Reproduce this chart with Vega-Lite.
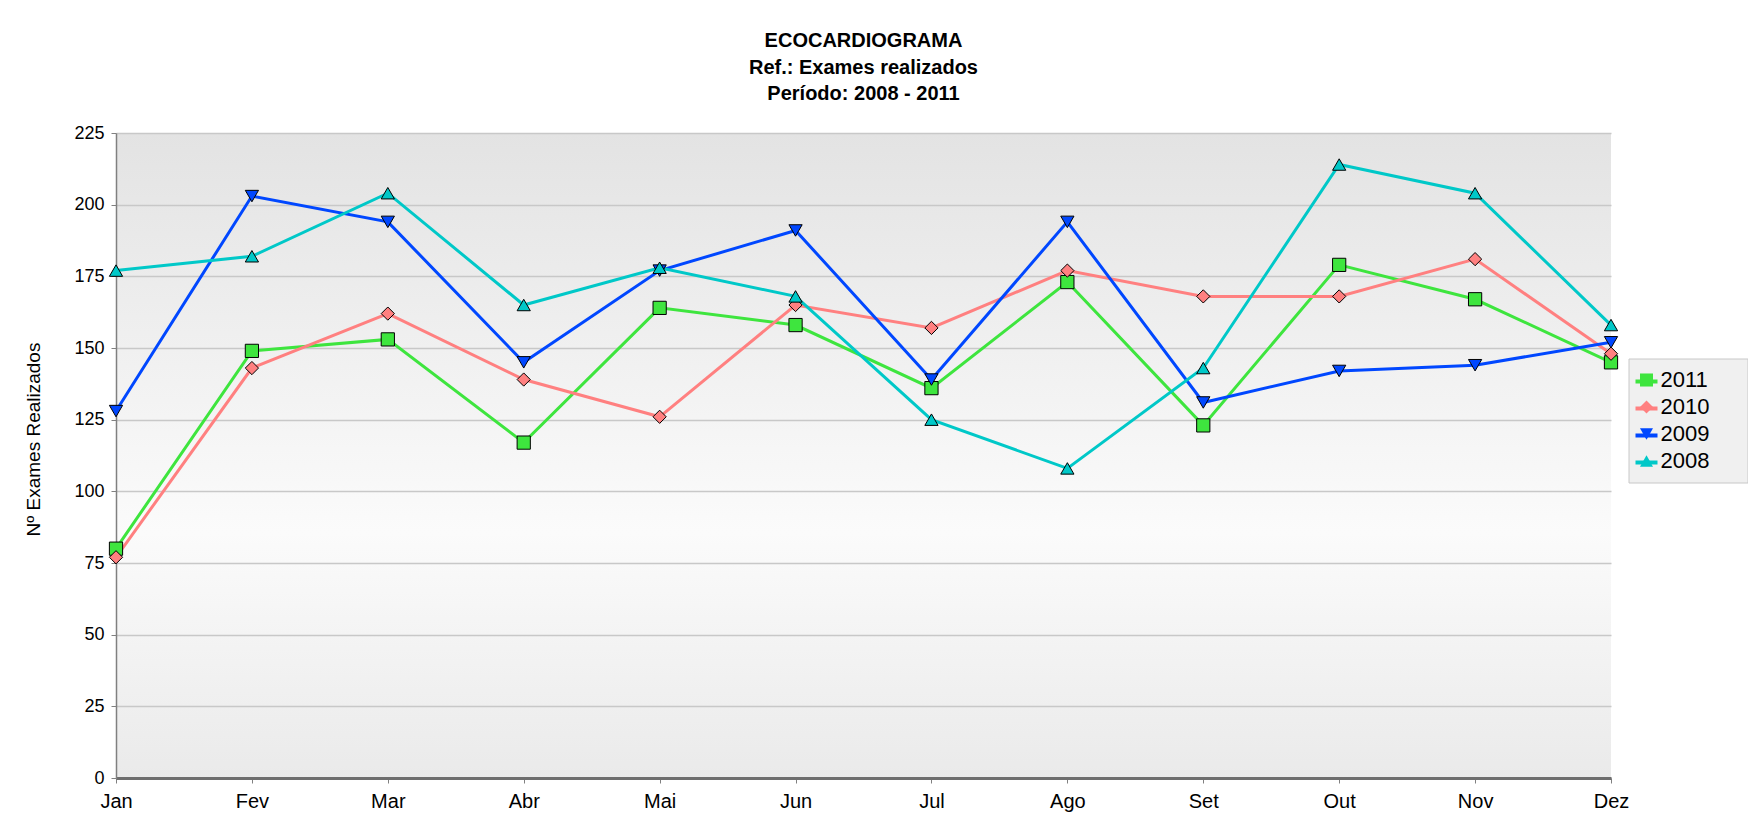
{
  "$schema": "https://vega.github.io/schema/vega-lite/v6.json",
  "width": 1495,
  "height": 645,
  "padding": {"left": 24, "top": 31, "right": 0, "bottom": 5},
  "background": "white",
  "title": {
    "text": ["ECOCARDIOGRAMA", "Ref.: Exames realizados", "Período: 2008 - 2011"],
    "fontSize": 20,
    "fontWeight": "bold",
    "font": "Liberation Sans",
    "lineHeight": 26.5,
    "anchor": "middle",
    "offset": 20,
    "color": "#000000"
  },
  "config": {
    "font": "Liberation Sans",
    "view": {
      "fill": {
        "gradient": "linear", "x1": 0, "y1": 0, "x2": 0, "y2": 1,
        "stops": [
          {"offset": 0, "color": "#e3e3e3"},
          {"offset": 0.62, "color": "#fbfbfb"},
          {"offset": 1, "color": "#eaeaea"}
        ]
      },
      "stroke": null
    }
  },
  "data": {
    "values": [
      {"mes": "Jan", "m": 1, "ano": "2011", "v": 80},
      {"mes": "Fev", "m": 2, "ano": "2011", "v": 149},
      {"mes": "Mar", "m": 3, "ano": "2011", "v": 153},
      {"mes": "Abr", "m": 4, "ano": "2011", "v": 117},
      {"mes": "Mai", "m": 5, "ano": "2011", "v": 164},
      {"mes": "Jun", "m": 6, "ano": "2011", "v": 158},
      {"mes": "Jul", "m": 7, "ano": "2011", "v": 136},
      {"mes": "Ago", "m": 8, "ano": "2011", "v": 173},
      {"mes": "Set", "m": 9, "ano": "2011", "v": 123},
      {"mes": "Out", "m": 10, "ano": "2011", "v": 179},
      {"mes": "Nov", "m": 11, "ano": "2011", "v": 167},
      {"mes": "Dez", "m": 12, "ano": "2011", "v": 145},
      {"mes": "Jan", "m": 1, "ano": "2010", "v": 77},
      {"mes": "Fev", "m": 2, "ano": "2010", "v": 143},
      {"mes": "Mar", "m": 3, "ano": "2010", "v": 162},
      {"mes": "Abr", "m": 4, "ano": "2010", "v": 139},
      {"mes": "Mai", "m": 5, "ano": "2010", "v": 126},
      {"mes": "Jun", "m": 6, "ano": "2010", "v": 165},
      {"mes": "Jul", "m": 7, "ano": "2010", "v": 157},
      {"mes": "Ago", "m": 8, "ano": "2010", "v": 177},
      {"mes": "Set", "m": 9, "ano": "2010", "v": 168},
      {"mes": "Out", "m": 10, "ano": "2010", "v": 168},
      {"mes": "Nov", "m": 11, "ano": "2010", "v": 181},
      {"mes": "Dez", "m": 12, "ano": "2010", "v": 148},
      {"mes": "Jan", "m": 1, "ano": "2009", "v": 128},
      {"mes": "Fev", "m": 2, "ano": "2009", "v": 203},
      {"mes": "Mar", "m": 3, "ano": "2009", "v": 194},
      {"mes": "Abr", "m": 4, "ano": "2009", "v": 145},
      {"mes": "Mai", "m": 5, "ano": "2009", "v": 177},
      {"mes": "Jun", "m": 6, "ano": "2009", "v": 191},
      {"mes": "Jul", "m": 7, "ano": "2009", "v": 139},
      {"mes": "Ago", "m": 8, "ano": "2009", "v": 194},
      {"mes": "Set", "m": 9, "ano": "2009", "v": 131},
      {"mes": "Out", "m": 10, "ano": "2009", "v": 142},
      {"mes": "Nov", "m": 11, "ano": "2009", "v": 144},
      {"mes": "Dez", "m": 12, "ano": "2009", "v": 152},
      {"mes": "Jan", "m": 1, "ano": "2008", "v": 177},
      {"mes": "Fev", "m": 2, "ano": "2008", "v": 182},
      {"mes": "Mar", "m": 3, "ano": "2008", "v": 204},
      {"mes": "Abr", "m": 4, "ano": "2008", "v": 165},
      {"mes": "Mai", "m": 5, "ano": "2008", "v": 178},
      {"mes": "Jun", "m": 6, "ano": "2008", "v": 168},
      {"mes": "Jul", "m": 7, "ano": "2008", "v": 125},
      {"mes": "Ago", "m": 8, "ano": "2008", "v": 108},
      {"mes": "Set", "m": 9, "ano": "2008", "v": 143},
      {"mes": "Out", "m": 10, "ano": "2008", "v": 214},
      {"mes": "Nov", "m": 11, "ano": "2008", "v": 204},
      {"mes": "Dez", "m": 12, "ano": "2008", "v": 158}
    ]
  },
  "encoding": {
    "x": {
      "field": "mes",
      "type": "ordinal",
      "sort": ["Jan", "Fev", "Mar", "Abr", "Mai", "Jun", "Jul", "Ago", "Set", "Out", "Nov", "Dez"],
      "scale": {"type": "point", "padding": 0},
      "axis": {
        "title": null,
        "labelAngle": 0,
        "labelFontSize": 20,
        "labelColor": "#000000",
        "labelPadding": 8,
        "tickSize": 5,
        "tickColor": "#808080",
        "domainColor": "#6e6e6e",
        "domainWidth": 3,
        "grid": false
      }
    },
    "y": {
      "field": "v",
      "type": "quantitative",
      "scale": {"domain": [0, 225], "nice": false},
      "axis": {
        "title": "Nº Exames Realizados",
        "titleFontSize": 19,
        "titleFontWeight": "normal",
        "titleColor": "#000000",
        "titlePadding": 30,
        "titleY": 306,
        "values": [0, 25, 50, 75, 100, 125, 150, 175, 200, 225],
        "labelFontSize": 18,
        "labelColor": "#000000",
        "labelPadding": 7,
        "tickSize": 5,
        "tickColor": "#808080",
        "domainColor": "#808080",
        "domainWidth": 1.5,
        "grid": true,
        "gridColor": "#c8c8c8",
        "gridWidth": 1.5
      }
    }
  },
  "layer": [
    {
      "mark": {"type": "line", "strokeWidth": 3},
      "encoding": {
        "order": {"field": "m", "type": "quantitative"},
        "color": {
          "field": "ano",
          "type": "nominal",
          "scale": {
            "domain": ["2011", "2010", "2009", "2008", "_"],
            "range": ["#3ee53e", "#ff8080", "#0047ff", "#00c8c8", "#999999"]
          },
          "legend": {
            "title": null,
            "orient": "none",
            "values": ["2011", "2010", "2009", "2008"],
            "legendX": 1512.5,
            "legendY": 225.5,
            "padding": 10,
            "strokeColor": "#c8c8c8",
            "fillColor": "#f0f0f0",
            "labelFontSize": 20,
            "labelExpr": "' '",
            "labelOffset": 78,
            "symbolType": "stroke",
            "symbolSize": 484,
            "symbolStrokeWidth": 4,
            "symbolOffset": -5,
            "rowPadding": 4
          }
        }
      }
    },
    {
      "mark": {"type": "point", "filled": true, "opacity": 1, "size": 175, "stroke": "#000000", "strokeWidth": 1},
      "encoding": {
        "fill": {
          "field": "ano",
          "type": "nominal",
          "scale": {
            "domain": ["2011", "2010", "2009", "2008"],
            "range": ["#3ee53e", "#ff8080", "#0047ff", "#00c8c8"]
          },
          "legend": {
            "title": null,
            "orient": "none",
            "legendX": 1514.5,
            "legendY": 226,
            "padding": 10,
            "labelFontSize": 22,
            "labelColor": "#000000",
            "labelOffset": 3,
            "symbolSize": 170,
            "symbolStrokeColor": "#000000",
            "symbolStrokeWidth": 1,
            "symbolOffset": -5,
            "rowPadding": 5
          }
        },
        "shape": {
          "field": "ano",
          "type": "nominal",
          "scale": {
            "domain": ["2011", "2010", "2009", "2008"],
            "range": ["square", "diamond", "triangle-down", "triangle-up"]
          },
          "legend": {
            "title": null,
            "orient": "none",
            "legendX": 1514.5,
            "legendY": 226,
            "padding": 10,
            "labelFontSize": 22,
            "labelColor": "#000000",
            "labelOffset": 3,
            "symbolSize": 170,
            "symbolStrokeColor": "#000000",
            "symbolStrokeWidth": 1,
            "symbolOffset": -5,
            "rowPadding": 5
          }
        }
      }
    }
  ]
}
